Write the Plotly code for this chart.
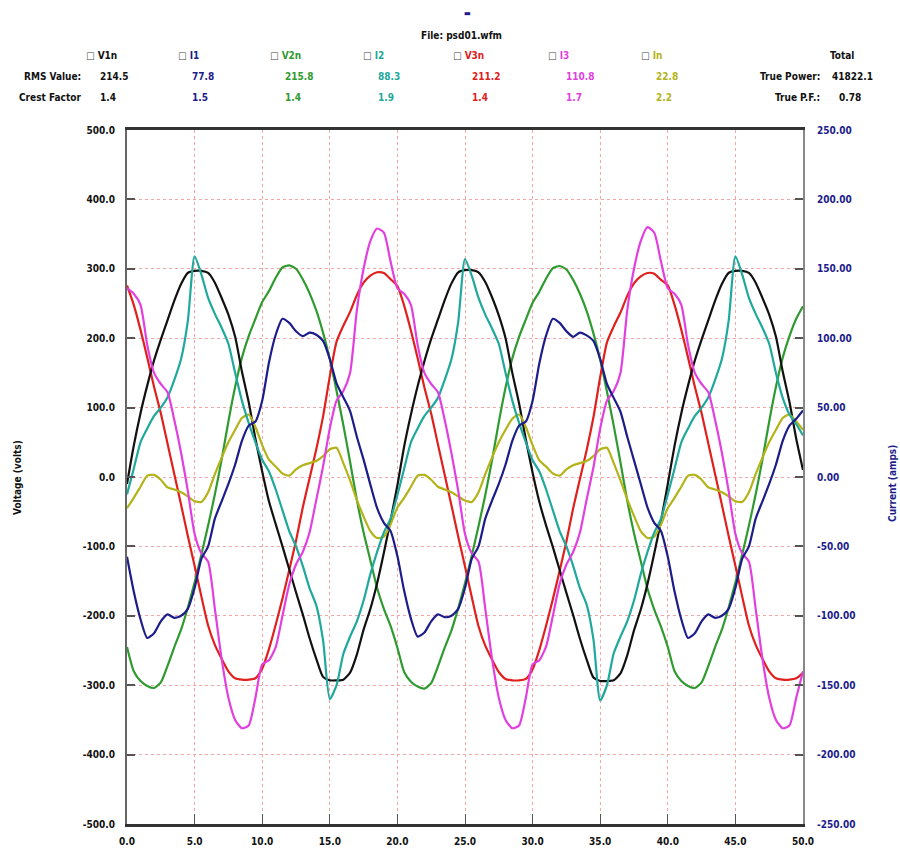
import plotly.graph_objects as go

# Sample times (ms), 0.5 ms spacing over the 50 ms capture
time_ms = [round(0.5 * k, 1) for k in range(101)]

# Phase-to-neutral voltages (volts)
v1n = [
    -10, 45, 92, 132, 168, 198, 226, 254, 278, 294, 297, 297, 294, 280, 258, 234, 202, 152, 108, 55,
    8, -35, -68, -100, -133, -166, -198, -232, -262, -288, -293, -293, -292, -282, -256, -220, -190, -153, -109, -62,
    -12, 44, 90, 131, 167, 199, 227, 255, 279, 295, 298, 298, 295, 281, 259, 233, 200, 150, 106, 54,
    6, -36, -70, -101, -134, -167, -199, -233, -263, -289, -294, -294, -293, -283, -257, -221, -191, -154, -110, -63,
    -10, 45, 92, 132, 168, 198, 226, 254, 278, 294, 297, 297, 294, 280, 258, 234, 202, 152, 108, 55, 10]
v2n = [
    -245, -280, -294, -301, -304, -296, -272, -245, -220, -188, -152, -112, -70, -25, 25, 80, 130, 172, 203, 228,
    252, 268, 287, 302, 305, 300, 285, 265, 240, 208, 170, 124, 75, 22, -33, -80, -120, -160, -190, -215,
    -246, -281, -295, -302, -305, -297, -273, -246, -221, -189, -153, -113, -71, -26, 24, 79, 129, 171, 202, 227,
    251, 267, 286, 301, 304, 299, 284, 264, 239, 207, 169, 123, 74, 21, -34, -81, -121, -161, -191, -216,
    -245, -280, -294, -301, -304, -296, -272, -245, -220, -188, -152, -112, -70, -25, 25, 80, 130, 172, 203, 228, 246]
v3n = [
    276, 248, 212, 172, 130, 92, 48, 4, -40, -85, -128, -172, -214, -242, -262, -280, -290, -292, -292, -290,
    -276, -248, -213, -175, -134, -92, -44, -2, 40, 87, 145, 195, 218, 238, 262, 280, 290, 295, 294, 285,
    275, 247, 211, 171, 129, 91, 47, 3, -41, -86, -129, -173, -215, -243, -263, -281, -291, -293, -293, -291,
    -277, -249, -214, -176, -135, -93, -45, -3, 39, 86, 144, 194, 217, 237, 261, 279, 289, 294, 293, 284,
    276, 248, 212, 172, 130, 92, 48, 4, -40, -85, -128, -172, -214, -242, -262, -280, -290, -292, -292, -290, -282]

# Line and neutral currents (amps)
i1 = [
    -57.5, -82.5, -102.5, -116, -112.5, -104, -99, -101.5, -100, -95, -80, -59, -50, -30, -17.5, -5, 9, 26, 37, 40,
    55, 82.5, 102.5, 114, 111, 105, 101.5, 104, 102.5, 98, 85, 67.5, 57.5, 47.5, 29, 12.5, -5.5, -22.5, -33, -39,
    -57, -82, -102, -115, -112, -104, -99, -101, -100, -95, -80, -59, -50, -30, -17, -5, 9, 26, 37, 40,
    55, 82, 102, 114, 111, 105, 101, 104, 102, 98, 85, 67, 57, 47, 29, 12, -5, -22, -33, -39,
    -57.5, -82.5, -102.5, -116, -112.5, -104, -99, -101.5, -100, -95, -80, -59, -50, -30, -17.5, -5, 9, 26, 37, 42, 48]
i2 = [
    -12.5, 6, 25, 35, 44, 50, 57.5, 70, 85, 112.5, 159, 146, 129, 117.5, 107.5, 96, 75, 55, 39, 25,
    12.5, 4, -9, -24, -39, -50, -64, -80, -92.5, -117.5, -160, -150, -127.5, -115, -104, -89, -70, -54, -40, -30,
    -13, 6, 25, 35, 44, 50, 57, 70, 85, 112, 157, 145, 129, 117, 107, 96, 75, 55, 39, 25,
    12, 4, -9, -24, -39, -50, -64, -80, -92, -117, -161, -150, -127, -115, -104, -89, -70, -54, -40, -30,
    -12.5, 6, 25, 35, 44, 50, 57.5, 70, 85, 112.5, 159, 146, 129, 117.5, 107.5, 96, 75, 57, 45, 38, 30]
i3 = [
    136, 132, 124, 95, 75, 67, 61, 41, 17.5, -10, -41, -55, -61, -95, -131, -159, -175, -181, -179, -159,
    -135, -132, -122.5, -100, -77.5, -63, -54, -40, -16.5, 7.5, 35, 55, 62, 75, 120, 150, 170, 179, 176, 155,
    136, 132, 124, 95, 75, 67, 61, 41, 17, -10, -41, -55, -61, -95, -131, -159, -175, -181, -179, -159,
    -135, -132, -122, -100, -77, -63, -54, -40, -16, 7, 35, 55, 62, 75, 120, 150, 170, 180, 176, 155,
    136, 132, 124, 95, 75, 67, 61, 41, 17.5, -10, -41, -55, -61, -95, -131, -159, -175, -181, -179, -159, -140]
i_n = [
    -22.5, -15, -7, 1, 1.5, -2, -7.5, -9, -11, -14, -17.5, -18, -11, 2, 14, 25, 34, 42.5, 45, 36,
    23, 12.5, 7.5, 2.5, 1, 5.5, 8.5, 10, 11.5, 15, 20, 21, 10, -2.5, -16.5, -28.5, -39, -44, -43, -34,
    -22, -15, -7, 1, 1.5, -2, -7, -9, -11, -14, -17, -18, -11, 2, 14, 25, 34, 42, 45, 36,
    23, 12, 7.5, 2.5, 1, 5.5, 8.5, 10, 11.5, 15, 20, 21, 10, -2.5, -16, -28, -39, -44, -43, -34,
    -22.5, -15, -7, 1, 1.5, -2, -7.5, -9, -11, -14, -17.5, -18, -11, 2, 14, 25, 34, 42.5, 45, 40, 34]

# Header table
channel_names = ["V1n", "I1", "V2n", "I2", "V3n", "I3", "In"]
channel_colors = ["#111111", "#1c1c8a", "#2f9a2f", "#1fa89c", "#e0201c", "#e23fe0", "#b3b31a"]
rms_values = ["214.5", "77.8", "215.8", "88.3", "211.2", "110.8", "22.8"]
crest_factors = ["1.4", "1.5", "1.4", "1.9", "1.4", "1.7", "2.2"]
true_power = "41822.1"
true_pf = "0.78"
file_name = "File: psd01.wfm"

# Axis ticks
volt_ticks = [500, 400, 300, 200, 100, 0, -100, -200, -300, -400, -500]
volt_labels = ["500.0", "400.0", "300.0", "200.0", "100.0", "0.0", "-100.0", "-200.0", "-300.0", "-400.0", "-500.0"]
amp_ticks = [250, 200, 150, 100, 50, 0, -50, -100, -150, -200, -250]
amp_labels = ["250.00", "200.00", "150.00", "100.00", "50.00", "0.00", "-50.00", "-100.00", "-150.00", "-200.00", "-250.00"]
time_ticks = [0, 5, 10, 15, 20, 25, 30, 35, 40, 45, 50]
time_labels = ["0.0", "5.0", "10.0", "15.0", "20.0", "25.0", "30.0", "35.0", "40.0", "45.0", "50.0"]

FONT = "Liberation Sans Narrow, DejaVu Sans Condensed, Arial Narrow, sans-serif"
W, H = 900, 859
L, R, T, B = 127, 803, 130, 828


def px(x):
    return (x - L) / (R - L)


def py(y):
    return (B - y) / (B - T)


fig = go.Figure()

series = [
    ("V1n", v1n, "y"), ("I1", i1, "y2"), ("V2n", v2n, "y"), ("I2", i2, "y2"),
    ("V3n", v3n, "y"), ("I3", i3, "y2"), ("In", i_n, "y2"),
]
draw_order = ["In", "V2n", "I2", "V3n", "I3", "I1", "V1n"]
lookup = {name: (vals, ax) for name, vals, ax in series}
for name in draw_order:
    vals, ax = lookup[name]
    color = channel_colors[channel_names.index(name)]
    fig.add_trace(go.Scatter(
        x=time_ms, y=vals, yaxis=ax, mode="lines", name=name,
        line=dict(color=color, width=2.2, shape="spline", smoothing=0.6),
        showlegend=False,
    ))

ann = []


def text(s, x, y, color="#111111", anchor="left", size=10):
    ann.append(dict(text=s, x=px(x), y=py(y), xref="paper", yref="paper",
                    xanchor=anchor, yanchor="middle", showarrow=False,
                    font=dict(family=FONT, size=size, color=color, weight="bold")))


text("▬", 467, 13, color="#1c1c8a", anchor="center", size=8)
text(file_name, 461, 35, anchor="center")

legend_x = [84, 176, 268, 361, 451, 546, 639]
value_x = [98, 190, 283, 376, 470, 564, 654]
for name, color, lx, vx, rms, cf in zip(channel_names, channel_colors, legend_x, value_x, rms_values, crest_factors):
    text('<span style="color:#444444">□</span> ' + name, lx, 55, color=color)
    text(rms, vx, 76, color=color)
    text(cf, vx, 97, color=color)

text("RMS Value:", 83, 76, anchor="right")
text("Crest Factor", 83, 97, anchor="right")
text("Total", 842, 55, anchor="center")
text("True Power:", 822, 76, anchor="right")
text(true_power, 830, 76)
text("True P.F.:", 822, 97, anchor="right")
text(true_pf, 837, 97)

ann.append(dict(text="Voltage (volts)", x=px(18), y=py(480), xref="paper", yref="paper",
                textangle=-90, showarrow=False, xanchor="center", yanchor="middle",
                font=dict(family=FONT, size=10, color="#111111", weight="bold")))
ann.append(dict(text="Current (amps)", x=px(893), y=py(485), xref="paper", yref="paper",
                textangle=-90, showarrow=False, xanchor="center", yanchor="middle",
                font=dict(family=FONT, size=10, color="#1c1c8a", weight="bold")))

grid = dict(gridcolor="#f2a6a6", griddash="dot", gridwidth=1)

fig.update_layout(
    width=W, height=H,
    margin=dict(l=L, r=W - R, t=T, b=H - B),
    paper_bgcolor="white", plot_bgcolor="white",
    annotations=ann,
    xaxis=dict(range=[0, 50], tickvals=time_ticks, ticktext=time_labels,
               showline=True, linecolor="#333333", linewidth=3, mirror=True,
               ticks="inside", ticklen=10, tickcolor="#555555", tickwidth=1,
               showgrid=True, zeroline=False, ticklabelstandoff=6,
               tickfont=dict(family=FONT, size=10, color="#111111", weight="bold"), **grid),
    yaxis=dict(range=[-500, 500], tickvals=volt_ticks, ticktext=volt_labels,
               showline=True, linecolor="#666666", linewidth=2,
               ticks="inside", ticklen=8, tickcolor="#555555", tickwidth=2,
               showgrid=True, zeroline=False, ticklabelstandoff=8,
               tickfont=dict(family=FONT, size=10, color="#111111", weight="bold"), **grid),
    yaxis2=dict(range=[-250, 250], tickvals=amp_ticks, ticktext=amp_labels,
                overlaying="y", side="right",
                showline=True, linecolor="#888888", linewidth=2,
                ticks="inside", ticklen=8, tickcolor="#555555", tickwidth=2,
                showgrid=False, zeroline=False, ticklabelstandoff=10,
                tickfont=dict(family=FONT, size=10, color="#1c1c8a", weight="bold")),
)

fig.write_html("out.html")
